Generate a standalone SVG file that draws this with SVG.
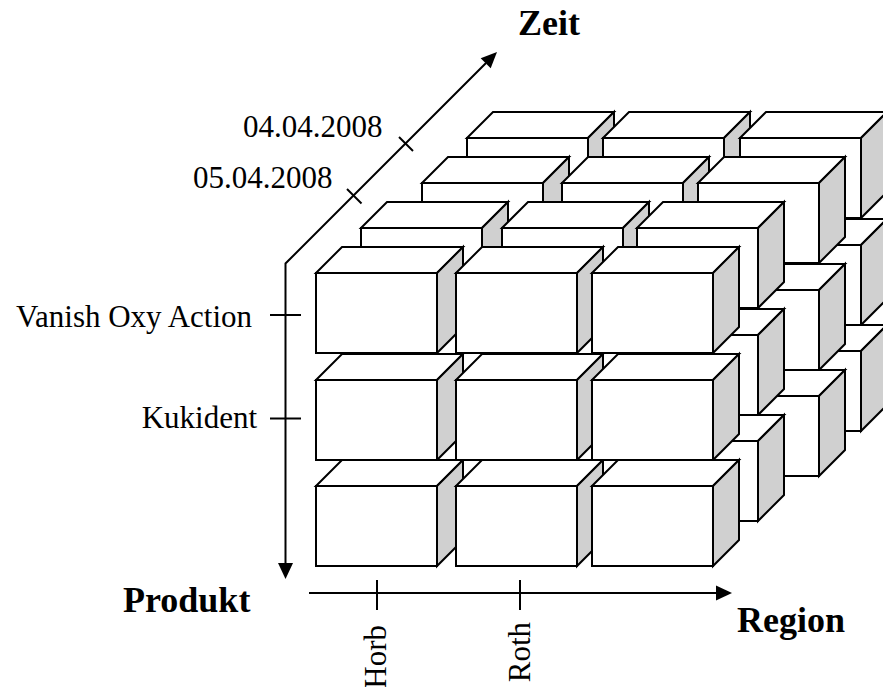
<svg xmlns="http://www.w3.org/2000/svg" width="883" height="687" viewBox="0 0 883 687">
<style>
.f{fill:#fff;stroke:#000;stroke-width:2;stroke-linejoin:miter}
.s{fill:#d0d0d0;stroke:#000;stroke-width:2;stroke-linejoin:miter}
.ax{fill:none;stroke:#000;stroke-width:2}
.hd{fill:#000;stroke:none}
.t{font-family:"Liberation Serif","Times New Roman",serif;font-size:31px;fill:#000}
.b{font-family:"Liberation Serif","Times New Roman",serif;font-size:36px;font-weight:bold;fill:#000}
</style>
<defs>
<g id="box">
<rect class="f" x="0" y="0" width="121" height="80"/>
<polygon class="f" points="0,0 26,-26 147,-26 121,0"/>
<polygon class="s" points="121,0 147,-26 147,54 121,80"/>
</g>
</defs>
<rect x="0" y="0" width="883" height="687" fill="#fff"/>
<g id="layer4">
<g id="c4-1-1"><use href="#box" x="467" y="138"/></g>
<g id="c4-2-1"><use href="#box" x="467" y="245"/></g>
<g id="c4-3-1"><use href="#box" x="467" y="351"/></g>
<g id="c4-1-2"><use href="#box" x="603" y="138"/></g>
<g id="c4-2-2"><use href="#box" x="603" y="245"/></g>
<g id="c4-3-2"><use href="#box" x="603" y="351"/></g>
<g id="c4-1-3"><use href="#box" x="740" y="138"/></g>
<g id="c4-2-3"><use href="#box" x="740" y="245"/></g>
<g id="c4-3-3"><use href="#box" x="740" y="351"/></g>
</g>
<g id="layer3">
<g id="c3-1-1"><use href="#box" x="422" y="183"/></g>
<g id="c3-2-1"><use href="#box" x="422" y="290"/></g>
<g id="c3-3-1"><use href="#box" x="422" y="396"/></g>
<g id="c3-1-2"><use href="#box" x="562" y="183"/></g>
<g id="c3-2-2"><use href="#box" x="562" y="290"/></g>
<g id="c3-3-2"><use href="#box" x="562" y="396"/></g>
<g id="c3-1-3"><use href="#box" x="698" y="183"/></g>
<g id="c3-2-3"><use href="#box" x="698" y="290"/></g>
<g id="c3-3-3"><use href="#box" x="698" y="396"/></g>
</g>
<g id="layer2">
<g id="c2-1-1"><use href="#box" x="361" y="228"/></g>
<g id="c2-2-1"><use href="#box" x="361" y="335"/></g>
<g id="c2-3-1"><use href="#box" x="361" y="441"/></g>
<g id="c2-1-2"><use href="#box" x="502" y="228"/></g>
<g id="c2-2-2"><use href="#box" x="502" y="335"/></g>
<g id="c2-3-2"><use href="#box" x="502" y="441"/></g>
<g id="c2-1-3"><use href="#box" x="637" y="228"/></g>
<g id="c2-2-3"><use href="#box" x="637" y="335"/></g>
<g id="c2-3-3"><use href="#box" x="637" y="441"/></g>
</g>
<g id="layer1">
<g id="c1-1-1"><use href="#box" x="316" y="273"/></g>
<g id="c1-2-1"><use href="#box" x="316" y="380"/></g>
<g id="c1-3-1"><use href="#box" x="316" y="486"/></g>
<g id="c1-1-2"><use href="#box" x="456" y="273"/></g>
<g id="c1-2-2"><use href="#box" x="456" y="380"/></g>
<g id="c1-3-2"><use href="#box" x="456" y="486"/></g>
<g id="c1-1-3"><use href="#box" x="592" y="273"/></g>
<g id="c1-2-3"><use href="#box" x="592" y="380"/></g>
<g id="c1-3-3"><use href="#box" x="592" y="486"/></g>
</g>
<g id="connectors">
<polyline class="ax" points="486,63 285.5,263.5 285.5,565"/>
<polygon class="hd" points="497,52 480.7,58.3 490.7,68.3"/>
<polygon class="hd" points="285.5,579 278,563 293,563"/>
<line class="ax" x1="309" y1="593" x2="717" y2="593"/>
<polygon class="hd" points="732,593 716,585.5 716,600.5"/>
<line class="ax" x1="399" y1="137" x2="413" y2="151"/>
<line class="ax" x1="347" y1="189" x2="361.5" y2="203.5"/>
<line class="ax" x1="270" y1="315" x2="301" y2="315"/>
<line class="ax" x1="270" y1="418.5" x2="301" y2="418.5"/>
<line class="ax" x1="377" y1="580" x2="377" y2="610"/>
<line class="ax" x1="520" y1="580" x2="520" y2="610"/>
</g>
<g id="labels">
<text class="b" x="518" y="35">Zeit</text>
<text class="t" x="243" y="137">04.04.2008</text>
<text class="t" x="193" y="188">05.04.2008</text>
<text class="t" x="252" y="327" text-anchor="end">Vanish Oxy Action</text>
<text class="t" x="257" y="428" text-anchor="end">Kukident</text>
<text class="b" x="123" y="612">Produkt</text>
<text class="b" x="737" y="632">Region</text>
<text class="t" transform="translate(386,625) rotate(-90)" text-anchor="end">Horb</text>
<text class="t" transform="translate(530,622) rotate(-90)" text-anchor="end">Roth</text>
</g>
</svg>
